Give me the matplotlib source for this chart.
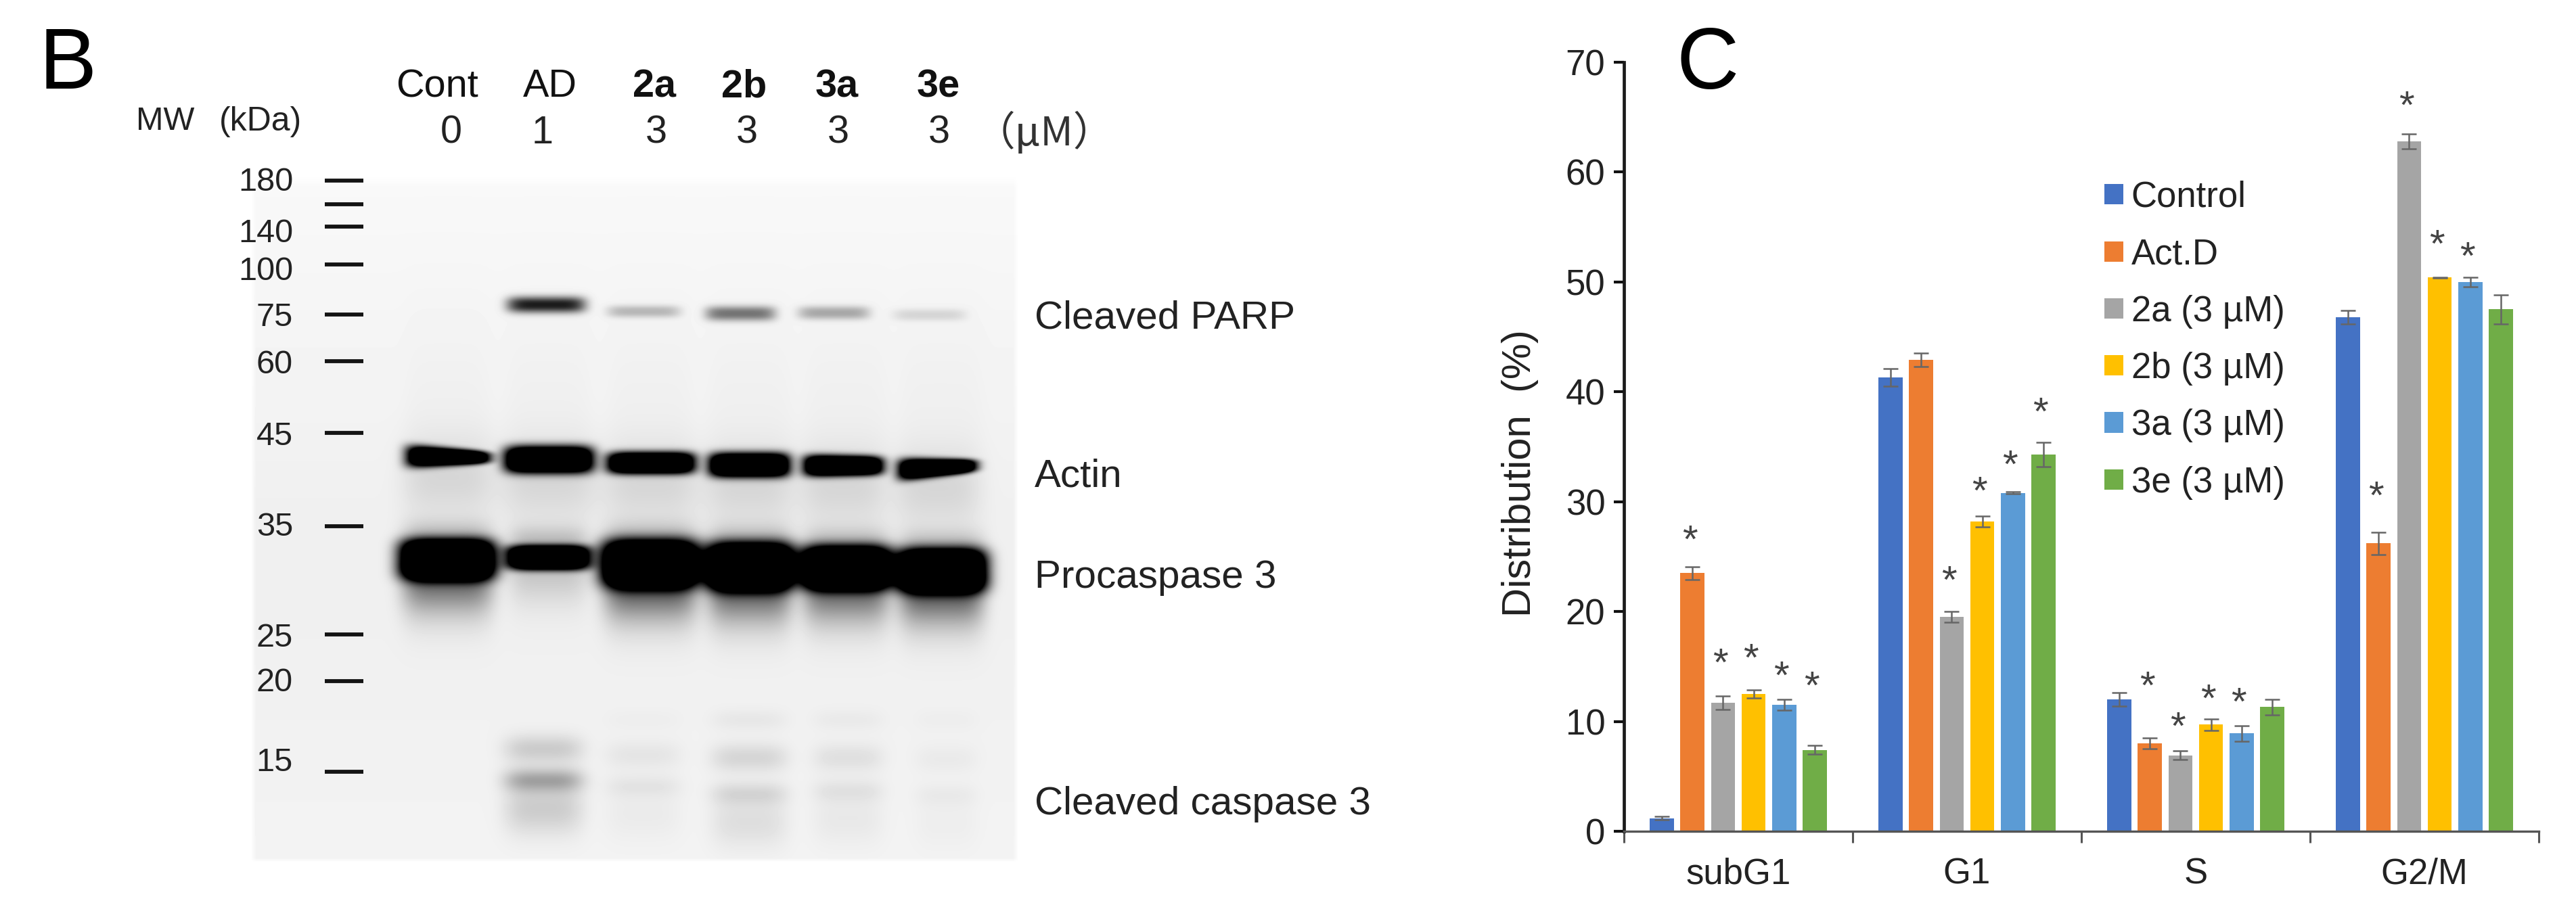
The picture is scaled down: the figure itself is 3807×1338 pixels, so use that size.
import numpy as np
import matplotlib
matplotlib.use("Agg")
import matplotlib.pyplot as plt

plt.rcParams['font.family'] = ['Liberation Sans', 'DejaVu Sans']

W, H = 3807, 1338

# ---------- panel C data ----------
categories = ['subG1', 'G1', 'S', 'G2/M']
series_names = ['Control', 'Act.D', '2a (3 µM)', '2b (3 µM)', '3a (3 µM)', '3e (3 µM)']
colors = ['#4472C4', '#ED7D31', '#A5A5A5', '#FFC000', '#5B9BD5', '#70AD47']
control = [1.2, 41.3, 12.0, 46.8]
actd = [23.5, 42.9, 8.0, 26.2]
c2a = [11.7, 19.5, 6.9, 62.8]
c2b = [12.5, 28.2, 9.7, 50.4]
c3a = [11.5, 30.8, 8.9, 50.0]
c3e = [7.4, 34.3, 11.3, 47.5]
err_control = [0.15, 0.8, 0.6, 0.6]
err_actd = [0.6, 0.6, 0.5, 1.0]
err_2a = [0.6, 0.5, 0.4, 0.7]
err_2b = [0.35, 0.5, 0.5, 0.05]
err_3a = [0.5, 0.1, 0.7, 0.45]
err_3e = [0.4, 1.1, 0.7, 1.3]
# asterisks: (category index, series index, height)
star_cat = [0, 0, 0, 0, 0, 1, 1, 1, 1, 2, 2, 2, 2, 3, 3, 3, 3]
star_ser = [1, 2, 3, 4, 5, 2, 3, 4, 5, 1, 2, 3, 4, 1, 2, 3, 4]
star_val = [27.1, 15.9, 16.3, 14.7, 13.8, 23.4, 31.5, 33.9, 38.7,
            13.8, 10.1, 12.6, 12.3, 31.1, 66.6, 54.0, 52.9]

# ---------- panel B data ----------
lane_names = ['Cont', 'AD', '2a', '2b', '3a', '3e']
lane_doses = ['0', '1', '3', '3', '3', '3']
mw_labels = ['180', '140', '100', '75', '60', '45', '35', '25', '20', '15']
target_labels = ['Cleaved PARP', 'Actin', 'Procaspase 3', 'Cleaved caspase 3']
parp_dark = [0.0, 0.85, 0.24, 0.50, 0.30, 0.12]
actin_dark = [1.7, 1.8, 1.8, 1.8, 1.8, 1.8]
proc_dark = [2.0, 1.8, 2.0, 2.0, 2.0, 2.0]
cc_upper = [0.0, 0.15, 0.05, 0.11, 0.07, 0.03]
cc_lower = [0.0, 0.28, 0.05, 0.10, 0.06, 0.03]
cc_smear = [0.0, 0.15, 0.03, 0.08, 0.04, 0.02]
cc_top = [0.0, 0.0, 0.015, 0.04, 0.03, 0.015]
proc_smear = [0.50, 0.16, 0.55, 0.52, 0.50, 0.55]

fig = plt.figure(figsize=(W / 100, H / 100), dpi=100, facecolor='white')

# ---------- pixel-space canvas for panel B ----------
px = fig.add_axes([0, 0, 1, 1])
px.set_xlim(0, W)
px.set_ylim(H, 0)
px.axis('off')

X0, X1, Y0, Y1 = 370, 1505, 257, 1274
xx, yy = np.meshgrid(np.arange(X0, X1, 1.0), np.arange(Y0, Y1, 1.0))


def band(cx, hw, cy, hh, d, px_=6, py_=2.4, taper=0.0, tilt=0.0):
    u = (xx - cx) / hw
    local_h = hh * np.clip(1 + taper * u, 0.55, None)
    return d * np.exp(-np.abs(u) ** px_) * np.exp(-np.abs((yy - cy - tilt * u) / local_h) ** py_)


parp_c = [807, 807, 951, 1094, 1232, 1373]
parp_hw = [58, 58, 54, 52, 53, 54]
parp_y = [450, 450, 460, 463, 462, 465]
parp_hh = [12, 12, 9, 11, 10, 9]
actin_c = [662, 811, 962, 1107, 1246, 1385]
actin_hw = [62, 66, 65, 60, 59, 58]
actin_y = [675, 679, 684, 687, 688, 691]
actin_hh = [13, 20, 16, 18, 15, 13]
actin_taper = [-0.32, 0.0, 0.0, 0.0, -0.08, -0.28]
actin_tilt = [1, 0, 0, 0, 0, -3]
proc_c = [661, 810, 961, 1108, 1250, 1391]
proc_hw = [71, 62, 73, 66, 68, 67]
proc_y = [827, 824, 833, 837, 839, 843]
proc_hh = [30, 18, 35, 35, 32, 32]
cc_c = [661, 803, 950, 1107, 1253, 1398]
cc_hw = [58, 58, 56, 56, 52, 46]
cc_upper_y = [1107, 1107, 1116, 1120, 1120, 1122]
cc_lower_y = [1153, 1153, 1162, 1173, 1169, 1175]

d = np.zeros_like(xx)
for i in range(6):
    d += band(parp_c[i], parp_hw[i], parp_y[i], parp_hh[i], parp_dark[i])
    d += band(actin_c[i], actin_hw[i], actin_y[i], actin_hh[i], actin_dark[i], py_=3, taper=actin_taper[i], tilt=actin_tilt[i])
    d += band(actin_c[i], actin_hw[i] + 6, actin_y[i] + 30, 60, 0.10, px_=4, py_=2)
    d += band(proc_c[i], proc_hw[i], proc_y[i], proc_hh[i], proc_dark[i], px_=5, py_=3.5)
    d += band(proc_c[i], proc_hw[i] - 4, proc_y[i] + proc_hh[i] + 8, 42, proc_smear[i], px_=5, py_=1.6)
    d += band(proc_c[i], proc_hw[i] - 4, proc_y[i] - proc_hh[i] - 6, 22, 0.16, px_=5, py_=2)
    d += band(cc_c[i], cc_hw[i], cc_upper_y[i], 21, cc_upper[i], px_=4, py_=2)
    d += band(cc_c[i], cc_hw[i], cc_lower_y[i], 17, cc_lower[i], px_=4, py_=2)
    d += band(cc_c[i], cc_hw[i], cc_lower_y[i] + 42, 38, cc_smear[i], px_=4, py_=2)
    d += band(cc_c[i], cc_hw[i], 1064, 16, cc_top[i], px_=4, py_=2)
    d += band(proc_c[i], 62, 580, 120, 0.012, py_=2)
bg = 0.975 - 0.035 * np.clip((yy - Y0) / 500, 0, 1) + 0.012 * np.clip((yy - 900) / 370, 0, 1)
img = np.clip(bg - d, 0.0, 1.0)
# soft fade into the white page at the blot edge
edge = np.clip((xx - X0) / 8, 0, 1) * np.clip((X1 - xx) / 8, 0, 1) * np.clip((yy - Y0) / 20, 0, 1) * np.clip((Y1 - yy) / 6, 0, 1)
img = 1 - (1 - img) * edge
px.imshow(img, cmap='gray', vmin=0, vmax=1, extent=(X0, X1, Y1, Y0), aspect='auto', interpolation='bilinear', zorder=1)
px.set_xlim(0, W)
px.set_ylim(H, 0)

# ladder
ladder_y = [267, 302, 335, 391, 465, 534, 640, 778, 938, 1007, 1141]
px.hlines(ladder_y, 480, 537, color='#141414', lw=4.2, zorder=2)
mw_y = [269, 345, 401, 470, 539, 645, 779, 944, 1010, 1128]
for lab, y in zip(mw_labels, mw_y):
    px.text(433, y, lab, ha='right', va='center', fontsize=35, color='#222222')

px.text(244, 180, 'MW', ha='center', va='center', fontsize=35, color='#222222')
px.text(385, 180, '(kDa)', ha='center', va='center', fontsize=36, color='#222222')

name_x = [646, 813, 967, 1100, 1237, 1387]
dose_x = [667, 802, 970, 1104, 1239, 1388]
for i, (n, dose) in enumerate(zip(lane_names, lane_doses)):
    px.text(name_x[i], 128, n, ha='center', va='center', fontsize=41.5,
            fontweight='bold' if i >= 2 else 'normal', color='#111111')
    px.text(dose_x[i], 197, dose, ha='center', va='center', fontsize=41.5, color='#222222')
px.text(1543, 197, '（µM）', ha='center', va='center', fontsize=43, color='#333333',
        family=['Noto Sans CJK JP', 'DejaVu Sans'])

target_y = [470, 704, 854, 1189]
for lab, y in zip(target_labels, target_y):
    px.text(1529, y, lab, ha='left', va='center', fontsize=42, color='#222222')

px.text(58, 98, 'B', ha='left', va='center', fontsize=92, color='black')
px.text(2478, 98, 'C', ha='left', va='center', fontsize=92, color='black', zorder=6)

# ---------- panel C ----------
ax = fig.add_axes([2400 / W, (H - 1229) / H, 1352 / W, 1137 / H])
ax.patch.set_alpha(0)
series = [control, actd, c2a, c2b, c3a, c3e]
errs = [err_control, err_actd, err_2a, err_2b, err_3a, err_3e]
pitch = 0.1335
bw = 0.106
centres = np.arange(len(categories)) + 0.5
for j, (vals, e, col, name) in enumerate(zip(series, errs, colors, series_names)):
    x = centres + (j - 2.5) * pitch
    ax.bar(x, vals, width=bw, color=col, label=name, zorder=2)
    ax.errorbar(x, vals, yerr=e, fmt='none', ecolor='#666666', elinewidth=1.8,
                capsize=8, capthick=1.8, zorder=3)

for c, s, v in zip(star_cat, star_ser, star_val):
    ax.annotate('*', xy=(centres[c] + (s - 2.5) * pitch - 0.012, v), xytext=(0, -20),
                textcoords='offset points', ha='center', va='baseline',
                fontsize=42, color='#444444', zorder=4)

ax.set_xlim(0, 4)
ax.set_ylim(0, 70)
ax.set_yticks(np.arange(0, 71, 10))
ax.tick_params(axis='y', labelsize=38, length=11, width=3, color='#111111', pad=9, labelcolor='#222222')
ax.set_xticks(np.arange(0, 5))
ax.set_xticklabels([])
ax.tick_params(axis='x', which='major', length=12, width=2.2, color='#555555')
ax.set_xticks(centres, minor=True)
ax.set_xticklabels(categories, minor=True)
ax.tick_params(axis='x', which='minor', length=0, labelsize=38, pad=28, labelcolor='#222222')
ax.spines['top'].set_visible(False)
ax.spines['right'].set_visible(False)
ax.spines['left'].set_linewidth(3.4)
ax.spines['left'].set_color('#1a1a1a')
ax.spines['bottom'].set_linewidth(2.4)
ax.spines['bottom'].set_color('#555555')
fig.text(2247 / W, 1 - 700 / H, 'Distribution  (%)', rotation=90, ha='center', va='center',
         fontsize=43, color='#222222')

ax.legend(loc='upper left', bbox_to_anchor=(3110 / W, 1 - 267 / H), bbox_transform=fig.transFigure,
          frameon=False, fontsize=38, handlelength=0.53, handleheight=0.5,
          handletextpad=0.22, labelspacing=0.65, borderpad=0, borderaxespad=0,
          labelcolor='#222222')

fig.savefig('out.png', dpi=100)
